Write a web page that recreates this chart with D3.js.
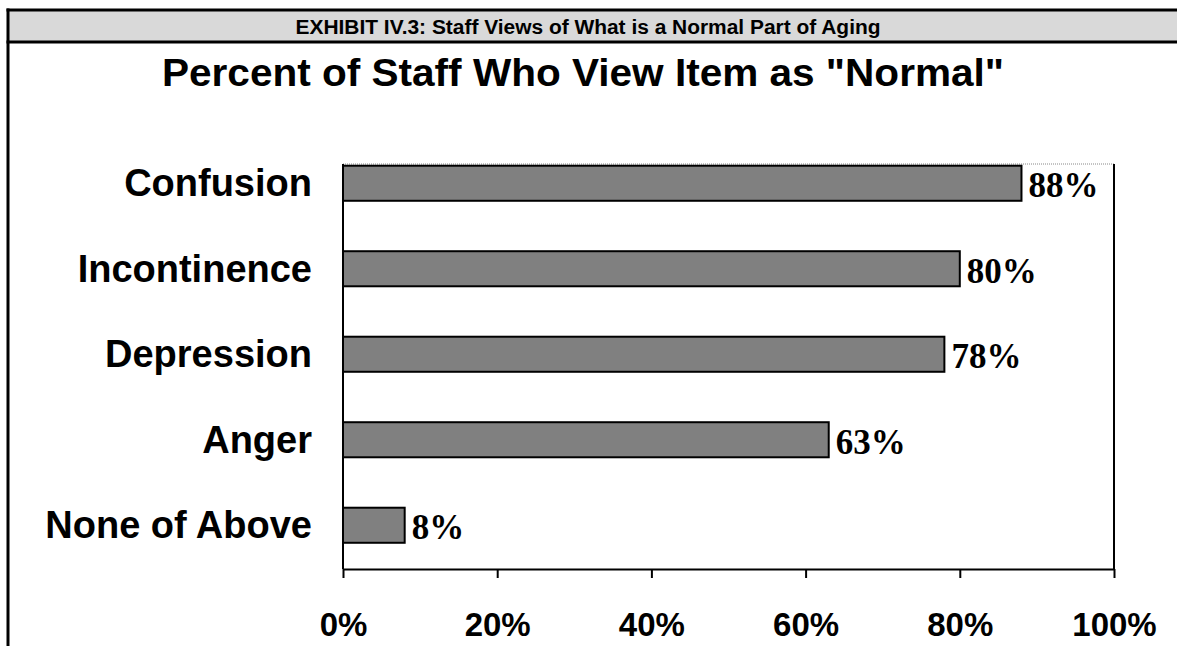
<!DOCTYPE html>
<html>
<head>
<meta charset="utf-8">
<script src="https://cdn.jsdelivr.net/npm/d3@7"></script>
<style>
  html, body { margin: 0; padding: 0; background: #fff; }
  svg { display: block; }
</style>
</head>
<body>
<svg id="chart" width="1177" height="646"></svg>
<script>
// Survey items and the share of staff who consider each a normal part of aging
const categories = ["Confusion", "Incontinence", "Depression", "Anger", "None of Above"];
const percents = [88, 80, 78, 63, 8];
const tickValues = [0, 20, 40, 60, 80, 100];

const headerText = "EXHIBIT IV.3: Staff Views of What is a Normal Part of Aging";
const titleText = "Percent of Staff Who View Item as \"Normal\"";

const svg = d3.select("#chart");
const W = 1177, H = 646;

// Exhibit frame: grey header band with rules
svg.append("rect").attr("x", 8).attr("y", 10).attr("width", W - 8).attr("height", 32)
  .attr("fill", "#d9d9d9");
svg.append("line").attr("x1", 6.5).attr("x2", W).attr("y1", 10).attr("y2", 10)
  .attr("stroke", "#000").attr("stroke-width", 3);
svg.append("line").attr("x1", 6.5).attr("x2", W).attr("y1", 42).attr("y2", 42)
  .attr("stroke", "#000").attr("stroke-width", 3);
svg.append("line").attr("x1", 8).attr("x2", 8).attr("y1", 8.5).attr("y2", H)
  .attr("stroke", "#000").attr("stroke-width", 3);

svg.append("text")
  .attr("x", 588).attr("y", 33.5)
  .attr("text-anchor", "middle")
  .attr("font-family", "Liberation Sans, Arial, sans-serif")
  .attr("font-weight", "bold")
  .attr("font-size", 20)
  .attr("textLength", 585)
  .attr("lengthAdjust", "spacingAndGlyphs")
  .text(headerText);

svg.append("text")
  .attr("x", 583).attr("y", 86)
  .attr("text-anchor", "middle")
  .attr("font-family", "Liberation Sans, Arial, sans-serif")
  .attr("font-weight", "bold")
  .attr("font-size", 39)
  .attr("textLength", 842)
  .attr("lengthAdjust", "spacingAndGlyphs")
  .text(titleText);

// Plot scales
const x = d3.scaleLinear().domain([0, 100]).range([343, 1114]);
const y = d3.scaleBand().domain(categories).range([140.5, 568])
  .paddingInner(0.59).paddingOuter(0.295);

const plotTop = 164, plotBottom = 569;

// Plot frame: faint dotted top edge, solid right edge
svg.append("line").attr("x1", x(0)).attr("x2", x(100)).attr("y1", plotTop).attr("y2", plotTop)
  .attr("stroke", "#888").attr("stroke-width", 1).attr("stroke-dasharray", "1,1");
svg.append("line").attr("x1", x(100)).attr("x2", x(100)).attr("y1", plotTop).attr("y2", plotBottom)
  .attr("stroke", "#000").attr("stroke-width", 2);

// Bars
const rows = categories.map((c, i) => ({ cat: c, val: percents[i] }));
svg.append("g").selectAll("rect").data(rows).join("rect")
  .attr("x", x(0))
  .attr("y", d => y(d.cat))
  .attr("width", d => x(d.val) - x(0))
  .attr("height", y.bandwidth())
  .attr("fill", "#808080")
  .attr("stroke", "#000")
  .attr("stroke-width", 2);

// Value labels at bar ends
svg.append("g").selectAll("text").data(rows).join("text")
  .attr("x", d => x(d.val) + 7)
  .attr("y", d => y(d.cat) + y.bandwidth() / 2 + 14)
  .attr("font-family", "Liberation Serif, Times New Roman, serif")
  .attr("font-weight", "bold")
  .attr("font-size", 35)
  .attr("fill", "#000")
  .text(d => d.val + "%");

// Category labels
svg.append("g").selectAll("text").data(rows).join("text")
  .attr("x", 312)
  .attr("y", d => y(d.cat) + y.bandwidth() / 2 + 13)
  .attr("text-anchor", "end")
  .attr("font-family", "Liberation Sans, Arial, sans-serif")
  .attr("font-weight", "bold")
  .attr("font-size", 38)
  .attr("fill", "#000")
  .text(d => d.cat);

// Left axis line
svg.append("line").attr("x1", x(0)).attr("x2", x(0)).attr("y1", plotTop).attr("y2", plotBottom)
  .attr("stroke", "#000").attr("stroke-width", 2);

// Bottom axis
const xAxis = d3.axisBottom(x)
  .tickValues(tickValues)
  .tickSize(9)
  .tickSizeOuter(0)
  .tickFormat(d => d + "%");

const gx = svg.append("g").attr("transform", `translate(0,${plotBottom})`).call(xAxis);
gx.select(".domain").attr("stroke", "#000").attr("stroke-width", 2);
gx.selectAll(".tick line").attr("stroke", "#000").attr("stroke-width", 2);
gx.selectAll(".tick text")
  .attr("y", 67).attr("dy", 0)
  .attr("font-family", "Liberation Sans, Arial, sans-serif")
  .attr("font-weight", "bold")
  .attr("font-size", 33)
  .attr("fill", "#000");
</script>
</body>
</html>
